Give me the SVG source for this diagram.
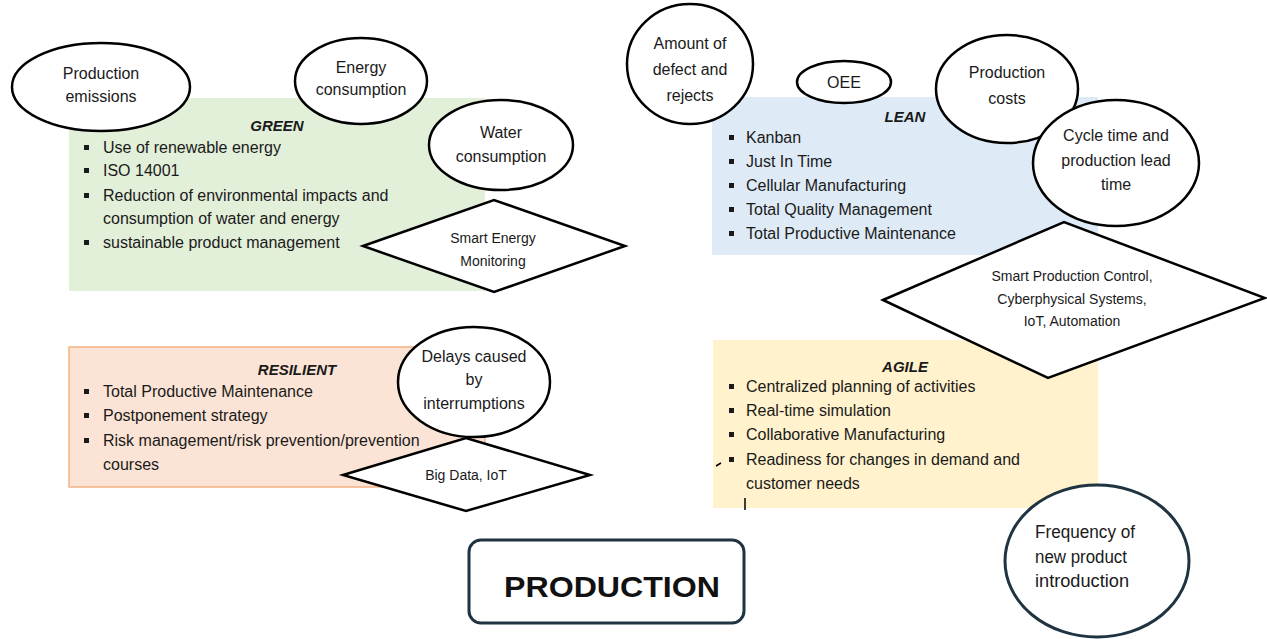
<svg xmlns="http://www.w3.org/2000/svg" width="1267" height="639" viewBox="0 0 1267 639">
<style>
.t{font-family:"Liberation Sans",Arial,sans-serif;font-size:16px;fill:#1a1a1a}
.c{text-anchor:middle}
.h{font-weight:bold;font-style:italic;font-size:15px}
.sm{font-size:14px}
.sh{fill:#fff;stroke:#000;stroke-width:2.5}
.b{fill:#1a1a1a}
</style>
<rect width="1267" height="639" fill="#fff"/>
<g id="green">
<rect x="69" y="98" width="416" height="193" fill="#e2efd9"/>
<text class="t c h" x="277" y="131">GREEN</text>
<rect class="b" x="84" y="145" width="5" height="5"/><text class="t" x="103" y="153">Use of renewable energy</text>
<rect class="b" x="84" y="168" width="5" height="5"/><text class="t" x="103" y="176">ISO 14001</text>
<rect class="b" x="84" y="193" width="5" height="5"/><text class="t" x="103" y="201">Reduction of environmental impacts and</text>
<text class="t" x="103" y="224">consumption of water and energy</text>
<rect class="b" x="84" y="240" width="5" height="5"/><text class="t" x="103" y="248">sustainable product management</text>
</g>
<g id="resilient">
<rect x="69" y="347" width="416" height="140" fill="#fbe4d5" stroke="#f4b183" stroke-width="1.5"/>
<text class="t c h" x="297" y="375">RESILIENT</text>
<rect class="b" x="84" y="389" width="5" height="5"/><text class="t" x="103" y="397">Total Productive Maintenance</text>
<rect class="b" x="84" y="413" width="5" height="5"/><text class="t" x="103" y="421">Postponement strategy</text>
<rect class="b" x="84" y="438" width="5" height="5"/><text class="t" x="103" y="446">Risk management/risk prevention/prevention</text>
<text class="t" x="103" y="470">courses</text>
</g>
<g id="lean">
<rect x="712" y="97" width="386" height="158" fill="#deebf7"/>
<text class="t c h" x="905" y="122">LEAN</text>
<rect class="b" x="729" y="135" width="5" height="5"/><text class="t" x="746" y="143">Kanban</text>
<rect class="b" x="729" y="159" width="5" height="5"/><text class="t" x="746" y="167">Just In Time</text>
<rect class="b" x="729" y="183" width="5" height="5"/><text class="t" x="746" y="191">Cellular Manufacturing</text>
<rect class="b" x="729" y="207" width="5" height="5"/><text class="t" x="746" y="215">Total Quality Management</text>
<rect class="b" x="729" y="231" width="5" height="5"/><text class="t" x="746" y="239">Total Productive Maintenance</text>
</g>
<g id="agile">
<rect x="713" y="340" width="385" height="168" fill="#fff2cc"/>
<text class="t c h" x="905" y="372">AGILE</text>
<rect class="b" x="729" y="384" width="5" height="5"/><text class="t" x="746" y="392">Centralized planning of activities</text>
<rect class="b" x="729" y="408" width="5" height="5"/><text class="t" x="746" y="416">Real-time simulation</text>
<rect class="b" x="729" y="432" width="5" height="5"/><text class="t" x="746" y="440">Collaborative Manufacturing</text>
<rect class="b" x="729" y="457" width="5" height="5"/><text class="t" x="746" y="465">Readiness for changes in demand and</text>
<text class="t" x="746" y="489">customer needs</text>
<path d="M716 466 L721 463 M745 498 L745 510" stroke="#000" stroke-width="1.5" fill="none"/>
</g>
<g id="production-emissions">
<ellipse class="sh" cx="101" cy="87" rx="89" ry="44"/>
<text class="t c" x="101" y="79">Production</text>
<text class="t c" x="101" y="102">emissions</text>
</g>
<g id="energy-consumption">
<ellipse class="sh" cx="361" cy="81" rx="66" ry="43"/>
<text class="t c" x="361" y="73">Energy</text>
<text class="t c" x="361" y="95">consumption</text>
</g>
<g id="water-consumption">
<ellipse class="sh" cx="501" cy="145" rx="72" ry="45"/>
<text class="t c" x="501" y="138">Water</text>
<text class="t c" x="501" y="162">consumption</text>
</g>
<g id="smart-energy">
<polygon class="sh" points="363,246 494,200 625,246 494,292"/>
<text class="t c sm" x="493" y="243">Smart Energy</text>
<text class="t c sm" x="493" y="266">Monitoring</text>
</g>
<g id="delays">
<ellipse class="sh" cx="474" cy="382" rx="76" ry="55"/>
<text class="t c" x="474" y="362">Delays caused</text>
<text class="t c" x="474" y="385">by</text>
<text class="t c" x="474" y="409">interrumptions</text>
</g>
<g id="bigdata">
<polygon class="sh" points="343,475 466,438 590,475 466,511"/>
<text class="t c sm" x="466" y="480">Big Data, IoT</text>
</g>
<g id="amount-defect">
<ellipse class="sh" cx="690" cy="64" rx="63" ry="60"/>
<text class="t c" x="690" y="49">Amount of</text>
<text class="t c" x="690" y="75">defect and</text>
<text class="t c" x="690" y="101">rejects</text>
</g>
<g id="oee">
<ellipse class="sh" cx="844" cy="82" rx="47" ry="21"/>
<text class="t c" x="844" y="88">OEE</text>
</g>
<g id="production-costs">
<ellipse class="sh" cx="1007" cy="89" rx="71" ry="54"/>
<text class="t c" x="1007" y="78">Production</text>
<text class="t c" x="1007" y="104">costs</text>
</g>
<g id="cycle-time">
<ellipse class="sh" cx="1116" cy="163" rx="83" ry="63"/>
<text class="t c" x="1116" y="141">Cycle time and</text>
<text class="t c" x="1116" y="166">production lead</text>
<text class="t c" x="1116" y="190">time</text>
</g>
<g id="smart-production">
<polygon class="sh" points="883,300 1064,222 1265,298 1048,378"/>
<text class="t c sm" x="1072" y="281">Smart Production Control,</text>
<text class="t c sm" x="1072" y="304">Cyberphysical Systems,</text>
<text class="t c sm" x="1072" y="326">IoT, Automation</text>
</g>
<g id="frequency">
<ellipse cx="1097" cy="561" rx="92" ry="76" fill="#fff" stroke="#1f3340" stroke-width="3"/>
<text class="t" style="font-size:18px" x="1035" y="538" textLength="100" lengthAdjust="spacingAndGlyphs">Frequency of</text>
<text class="t" style="font-size:18px" x="1035" y="563" textLength="92" lengthAdjust="spacingAndGlyphs">new product</text>
<text class="t" style="font-size:18px" x="1035" y="587" textLength="94" lengthAdjust="spacingAndGlyphs">introduction</text>
</g>
<g id="production">
<rect x="469" y="540" width="275" height="83" rx="12" fill="#fff" stroke="#1f3340" stroke-width="3"/>
<text class="t" style="font-size:30px;font-weight:bold;fill:#111" x="504" y="597" textLength="216" lengthAdjust="spacingAndGlyphs">PRODUCTION</text>
</g>
<g id="connectors"></g>
</svg>
